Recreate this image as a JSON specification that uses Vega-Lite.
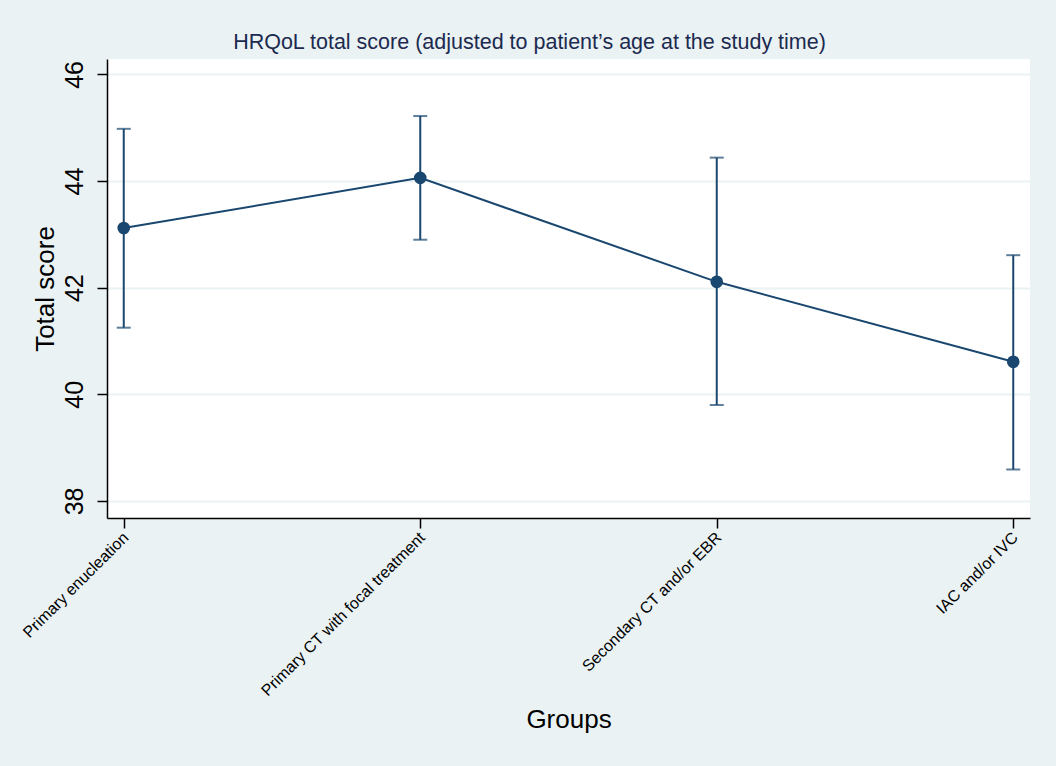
{
  "$schema": "https://vega.github.io/schema/vega-lite/v6.json",
  "autosize": {"type": "none"},
  "padding": {"left": 107, "top": 59, "right": 26, "bottom": 248},
  "width": 923,
  "height": 459,
  "background": "#EAF2F3",
  "config": {
    "font": "Liberation Sans",
    "view": {"fill": "white", "stroke": null}
  },
  "title": {
    "text": "HRQoL total score (adjusted to patient’s age at the study time)",
    "fontSize": 21.5,
    "fontWeight": "normal",
    "color": "#1C2A50",
    "anchor": "middle",
    "dx": -39,
    "offset": 6
  },
  "data": {
    "values": [
      {"group": "Primary enucleation", "mean": 43.12, "lo": 41.25, "hi": 44.98},
      {"group": "Primary CT with focal treatment", "mean": 44.06, "lo": 42.90, "hi": 45.22},
      {"group": "Secondary CT and/or EBR", "mean": 42.11, "lo": 39.80, "hi": 44.44},
      {"group": "IAC and/or IVC", "mean": 40.61, "lo": 38.59, "hi": 42.61}
    ]
  },
  "encoding": {
    "x": {
      "field": "group",
      "type": "nominal",
      "sort": null,
      "scale": {"type": "point", "padding": 0.0565},
      "axis": {
        "title": "Groups",
        "titleFontSize": 26,
        "titleFontWeight": "normal",
        "titleColor": "black",
        "titlePadding": 8,
        "labelAngle": -45,
        "labelAlign": "right",
        "labelBaseline": "top",
        "labelFontSize": 16,
        "labelLimit": 0,
        "labelColor": "black",
        "labelPadding": 1,
        "labelOffset": -4,
        "tickSize": 10,
        "tickColor": "black",
        "tickWidth": 1.5,
        "domainColor": "black",
        "domainWidth": 1.5,
        "grid": false
      }
    }
  },
  "layer": [
    {
      "mark": {"type": "rule", "color": "#1A476F", "strokeWidth": 2},
      "encoding": {
        "y": {
          "field": "lo",
          "type": "quantitative",
          "scale": {"domain": [37.68, 46.29], "nice": false, "zero": false},
          "axis": {
            "title": "Total score",
            "titleFontSize": 26,
            "titleFontWeight": "normal",
            "titleColor": "black",
            "titlePadding": 4,
            "values": [38, 40, 42, 44, 46],
            "labelAngle": -90,
            "labelAlign": "center",
            "labelBaseline": "bottom",
            "labelFontSize": 25,
            "labelColor": "black",
            "labelPadding": 10,
            "tickSize": 10,
            "tickColor": "black",
            "tickWidth": 1.5,
            "domainColor": "black",
            "domainWidth": 1.5,
            "grid": true,
            "gridColor": "#EAF2F3",
            "gridWidth": 2
          }
        },
        "y2": {"field": "hi"}
      }
    },
    {
      "mark": {"type": "tick", "color": "#1A476F", "orient": "horizontal", "size": 14, "thickness": 2},
      "encoding": {"y": {"field": "lo", "type": "quantitative"}}
    },
    {
      "mark": {"type": "tick", "color": "#1A476F", "orient": "horizontal", "size": 14, "thickness": 2},
      "encoding": {"y": {"field": "hi", "type": "quantitative"}}
    },
    {
      "mark": {"type": "line", "color": "#1A476F", "strokeWidth": 2},
      "encoding": {"y": {"field": "mean", "type": "quantitative"}}
    },
    {
      "mark": {"type": "point", "filled": true, "color": "#1A476F", "opacity": 1, "size": 160},
      "encoding": {"y": {"field": "mean", "type": "quantitative"}}
    }
  ]
}
